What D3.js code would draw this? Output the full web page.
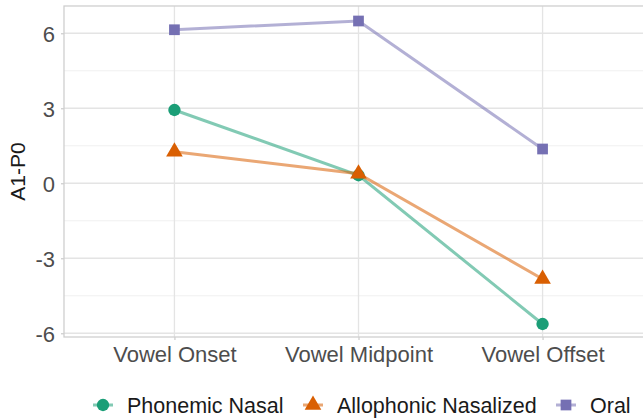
<!DOCTYPE html>
<html>
<head>
<meta charset="utf-8">
<script src="https://cdn.jsdelivr.net/npm/d3@7"></script>
<style>
  html, body { margin: 0; padding: 0; background: #fff; }
  svg { display: block; font-family: "Liberation Sans", Arial, sans-serif; }
</style>
</head>
<body>
<svg id="chart" width="643" height="419"></svg>
<script>
// Measurement positions along the vowel
const positions = ["Vowel Onset", "Vowel Midpoint", "Vowel Offset"];

// Mean A1-P0 per vowel type
const phonemicNasal = [2.93, 0.32, -5.63];
const allophonicNasalized = [1.26, 0.38, -3.83];
const oral = [6.14, 6.49, 1.37];

const seriesNames = ["Phonemic Nasal", "Allophonic Nasalized", "Oral"];
const seriesColors = ["#1B9E77", "#D95F02", "#7570B3"];
const seriesShapes = ["circle", "triangle", "square"];

const yTicks = [-6, -3, 0, 3, 6];
const yMinorTicks = [-4.5, -1.5, 1.5, 4.5];

const series = [phonemicNasal, allophonicNasalized, oral].map((vals, i) => ({
  name: seriesNames[i],
  color: seriesColors[i],
  shape: seriesShapes[i],
  values: vals.map((v, j) => ({ pos: positions[j], value: v }))
}));

const svg = d3.select("#chart");
const panel = { left: 64, top: 6, right: 653, bottom: 337 };

const x = d3.scalePoint()
  .domain(positions)
  .range([panel.left, panel.right])
  .padding(0.6);

const y = d3.scaleLinear()
  .domain([-6.15, 7.09])
  .range([panel.bottom, panel.top]);

// Grid
const grid = svg.append("g");
grid.selectAll("line.minor").data(yMinorTicks).join("line")
  .attr("x1", panel.left).attr("x2", panel.right)
  .attr("y1", d => y(d)).attr("y2", d => y(d))
  .attr("stroke", "#f0f0f0").attr("stroke-width", 1);
grid.selectAll("line.major").data(yTicks).join("line")
  .attr("x1", panel.left).attr("x2", panel.right)
  .attr("y1", d => y(d)).attr("y2", d => y(d))
  .attr("stroke", "#e4e4e4").attr("stroke-width", 1.3);
grid.selectAll("line.vmajor").data(positions).join("line")
  .attr("x1", d => x(d)).attr("x2", d => x(d))
  .attr("y1", panel.top).attr("y2", panel.bottom)
  .attr("stroke", "#e4e4e4").attr("stroke-width", 1.3);

// Panel border
svg.append("rect")
  .attr("x", panel.left).attr("y", panel.top)
  .attr("width", panel.right - panel.left).attr("height", panel.bottom - panel.top)
  .attr("fill", "none").attr("stroke", "#cfcfcf").attr("stroke-width", 1.3);

// Axes
const yAxis = svg.append("g")
  .attr("transform", `translate(${panel.left},0)`)
  .call(d3.axisLeft(y).tickValues(yTicks).tickSize(3).tickPadding(6).tickFormat(d => String(d)));
const xAxis = svg.append("g")
  .attr("transform", `translate(0,${panel.bottom})`)
  .call(d3.axisBottom(x).tickSize(3).tickPadding(6));
[xAxis, yAxis].forEach(g => {
  g.select(".domain").remove();
  g.selectAll(".tick line").attr("stroke", "#cfcfcf").attr("stroke-width", 1.3);
  g.selectAll(".tick text").attr("fill", "#4d4d4d").style("font-size", "22px");
});
yAxis.selectAll(".tick text").attr("dy", "0.36em");

svg.append("text")
  .attr("transform", `translate(25,${(panel.top + panel.bottom) / 2}) rotate(-90)`)
  .attr("text-anchor", "middle")
  .attr("fill", "#1a1a1a")
  .style("font-size", "21px")
  .text("A1-P0");

// Symbol helper
const symbolType = { circle: d3.symbolCircle, triangle: d3.symbolTriangle, square: d3.symbolSquare };
const symbolSize = { circle: 120, triangle: 120, square: 115 };
function symbolPath(shape) {
  return d3.symbol().type(symbolType[shape]).size(symbolSize[shape])();
}

// Lines and points
const line = d3.line().x(d => x(d.pos)).y(d => y(d.value));
const gSeries = svg.append("g").selectAll("g").data(series).join("g");
gSeries.append("path")
  .attr("d", d => line(d.values))
  .attr("fill", "none")
  .attr("stroke", d => d.color)
  .attr("stroke-opacity", 0.55)
  .attr("stroke-width", 3);
gSeries.selectAll("path.pt").data(d => d.values.map(v => ({ ...v, s: d }))).join("path")
  .attr("class", "pt")
  .attr("transform", d => `translate(${x(d.pos)},${y(d.value)})`)
  .attr("d", d => symbolPath(d.s.shape))
  .attr("fill", d => d.s.color);

// Legend
const legendY = 405;
const keyX = [103, 313, 566];
const legend = svg.append("g").selectAll("g").data(series).join("g")
  .attr("transform", (d, i) => `translate(${keyX[i]},${legendY})`);
legend.append("line")
  .attr("x1", -10).attr("x2", 10)
  .attr("stroke", d => d.color).attr("stroke-opacity", 0.55).attr("stroke-width", 3);
legend.append("path")
  .attr("d", d => symbolPath(d.shape))
  .attr("fill", d => d.color);
legend.append("text")
  .attr("x", 24).attr("dy", "0.36em")
  .attr("fill", "#1a1a1a")
  .style("font-size", "21.5px")
  .text(d => d.name);
</script>
</body>
</html>
